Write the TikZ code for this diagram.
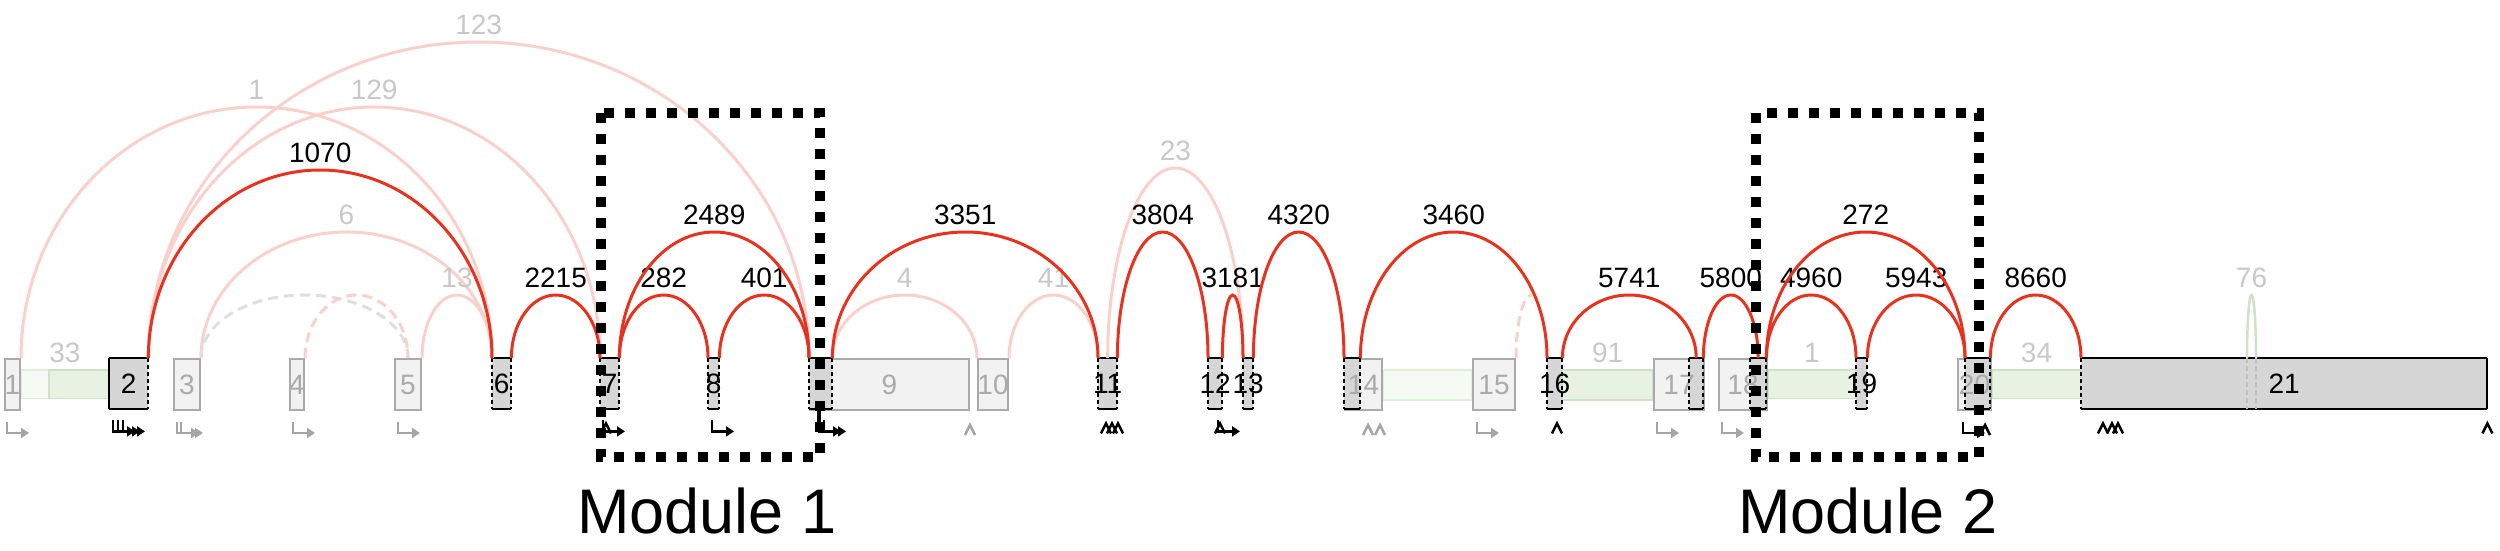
\documentclass[tikz,border=0pt]{standalone}
\usepackage{fontspec}
\setmainfont{Liberation Sans}
\usetikzlibrary{calc,arrows.meta}

\definecolor{junred}{RGB}{232,50,30}
\definecolor{junpale}{RGB}{250,208,203}
\definecolor{txtpale}{RGB}{200,200,200}
\definecolor{exdark}{RGB}{214,214,214}
\definecolor{exlight}{RGB}{242,242,242}
\definecolor{exedge}{RGB}{170,170,170}
\definecolor{intgreen}{RGB}{232,242,226}
\definecolor{intfaint}{RGB}{246,250,244}
\definecolor{intedge}{RGB}{206,226,198}
\definecolor{mkgray}{RGB}{165,165,165}

\pgfdeclarelayer{bands}
\pgfsetlayers{bands,main}

\newcommand\numfont{\fontsize{28}{32}\selectfont}

\tikzset{
  flat/.style={execute at begin node={\hbox to 0pt\bgroup\hss},
    execute at end node={\hss\egroup}},
  lex/.style={flat, anchor=north west, minimum height=51, inner sep=0pt, fill=exlight,
    draw=exedge, line width=2pt, text=exedge, font=\numfont},
  dex/.style={flat, anchor=north west, minimum height=51, inner sep=0pt, fill=exdark,
    font=\numfont},
  extxt/.style={text=exedge, font=\numfont, inner sep=0pt},
  exline/.style={line width=2pt, black},
  hot/.style={junred, line width=3pt},
  hot lab/.style={anchor=base, inner sep=0pt, font=\numfont},
  pale/.style={junpale, line width=3pt},
  pale lab/.style={anchor=base, inner sep=0pt, font=\numfont, text=txtpale},
  loop/.style={intedge, line width=2.5pt},
  loop lab/.style={pale lab},
  band/.style={fill=intgreen, draw=intedge, line width=1.5pt},
  faintband/.style={fill=intfaint, draw=intedge!60, line width=1.5pt},
  modbox/.style={line width=10pt, dash pattern=on 10pt off 11pt},
  modlab/.style={anchor=base, inner sep=0pt, font=\fontsize{63}{70}\selectfont},
  tss/.pic={\draw[line width=2.5pt, -{Triangle[length=8pt,width=10pt]}]
    (0,0) -- (0,11) -- (22,11);},
  tes/.pic={\draw[line width=2.5pt] (-5,13) -- (0,3) -- (5,13);},
}

% half ellipse between two exon anchors
\newcommand\arch[4][hot]{%
  \draw[#1] let \p1=(#2), \p2=(#3) in (\p1) arc[start angle=180, end angle=0,
    x radius={(\x2-\x1)/2}, y radius={#4pt}];}
% junction with its read count
\newcommand\junc[6][hot]{%
  \arch[#1]{#2}{#3}{#4}
  \node[#1 lab] (#5) at ($(#2)!.5!(#3)+(0,-#4-8)$) {#6};}
% dark exon edges, dashed sides
\newcommand\exedges[1]{%
  \draw[exline] (#1.north west) -- (#1.north east) (#1.south west) -- (#1.south east);
  \draw[exline, dash pattern=on 4pt off 3pt] (#1.north west) -- (#1.south west)
    (#1.north east) -- (#1.south east);}

\begin{document}
\begin{tikzpicture}[x=1pt,y=-1pt]
\useasboundingbox (0,0) rectangle (2500,550);

% exons
\node[lex, minimum width=15] (e1) at (4,358) {1};
\node[dex, minimum width=39] (e2) at (109,358) {2};
\node[lex, minimum width=26] (e3) at (173,358) {3};
\node[lex, minimum width=14] (e4) at (289,358) {4};
\node[lex, minimum width=26] (e5) at (394,358) {5};
\node[dex, minimum width=19] (e6) at (492,358) {6};
\node[dex, minimum width=19] (e7) at (600,358) {7};
\node[dex, minimum width=11] (e8) at (708,358) {8};
\node[lex, minimum width=159] (e9) at (809,358) {};
\node[dex, minimum width=23] (e9d) at (809,358) {};
\node[extxt] (t9) at (e9) {9};
\node[lex, minimum width=30] (e10) at (977,358) {10};
\node[dex, minimum width=19] (e11) at (1098,358) {11};
\node[dex, minimum width=14] (e12) at (1208,358) {12};
\node[dex, minimum width=10] (e13) at (1243,358) {13};
\node[lex, minimum width=37] (e14) at (1344,358) {};
\node[dex, minimum width=16] (e14d) at (1344,358) {};
\node[extxt] (t14) at (e14) {14};
\node[lex, minimum width=42] (e15) at (1472,358) {15};
\node[dex, minimum width=15] (e16) at (1547,358) {16};
\node[lex, minimum width=50] (e17) at (1653,358) {};
\node[dex, minimum width=14] (e17d) at (1689,358) {};
\node[extxt] (t17) at (e17) {17};
\node[lex, minimum width=48] (e18) at (1718,358) {};
\node[dex, minimum width=16] (e18d) at (1750,358) {};
\node[extxt] (t18) at (e18) {18};
\node[dex, minimum width=11] (e19) at (1856,358) {19};
\node[lex, minimum width=33] (e20) at (1957,358) {};
\node[dex, minimum width=25] (e20d) at (1965,358) {};
\node[extxt] (t20) at (e20) {20};
\node[dex, minimum width=406] (e21) at (2081,358) {21};

\foreach \e in {e2,e6,e7,e8,e9d,e11,e12,e13,e14d,e16,e17d,e18d,e19,e20d,e21}
  {\exedges{\e}}
\draw[exline] (e2.north west) -- (e2.south west);
\draw[exline] (e21.north east) -- (e21.south east);

% intron coverage
\begin{pgfonlayer}{bands}
\draw[faintband] ($(e1.north east)+(0,12)$) rectangle ($(e2.south west)+(0,-11)$);
\draw[band] ($(e1.north east)+(28,12)$) rectangle ($(e2.south west)+(0,-11)$);
\draw[faintband] ($(e14.north east)+(0,12)$) rectangle ($(e15.south west)+(0,-11)$);
\draw[band] ($(e16.north east)+(0,12)$) rectangle ($(e17.south west)+(0,-11)$);
\draw[band] ($(e18.north east)+(0,12)$) rectangle ($(e19.south west)+(0,-11)$);
\draw[band] ($(e20.north east)+(0,12)$) rectangle ($(e21.south west)+(0,-11)$);
\end{pgfonlayer}
\node[pale lab] (i33) at ($(e1.north east)!.5!(e2.north west)+(0,4)$) {33};
\node[pale lab] (i91) at ($(e16.north east)!.5!(e17.north west)+(0,4)$) {91};
\node[pale lab] (i1) at ($(e18.north east)!.5!(e19.north west)+(0,4)$) {1};
\node[pale lab] (i34) at ($(e20.north east)!.5!(e21.north west)+(0,4)$) {34};

% retained piece inside exon 21
\coordinate (r21a) at ($(e21.north west)+(166,0)$);
\coordinate (r21b) at ($(e21.north west)+(175,0)$);
\draw[mkgray!70, line width=2pt, dash pattern=on 5pt off 3pt]
  (r21a) -- +(0,51) (r21b) -- +(0,51);
\junc[loop]{r21a}{r21b}{63}{j76}{76}

% faint junctions
\junc[pale]{e1.north east}{e6.north west}{251}{j1}{1}
\junc[pale]{e2.north east}{e7.north west}{251}{j129}{129}
\junc[pale]{e2.north east}{e9d.north west}{316}{j123}{123}
\junc[pale]{e3.north east}{e6.north west}{126}{j6}{6}
\junc[pale]{e5.north east}{e6.north west}{63}{j13}{13}
\junc[pale]{e9d.north east}{e10.north west}{63}{j4}{4}
\junc[pale]{e10.north east}{e11.north west}{63}{j41}{41}
\junc[pale]{e11.north}{e13.north west}{190}{j23}{23}
\arch[gray!25, line width=3pt, dash pattern=on 10pt off 6pt]{e3.north east}{e5.north}{63}
\arch[pale, dash pattern=on 10pt off 6pt]{e4.north east}{e5.north}{63}
\draw[pale, dash pattern=on 10pt off 6pt] let \p1=(e15.north east), \p2=(e16.north west)
  in (\p1) arc[start angle=180, end angle=90, x radius={(\x2-\x1)/2}, y radius=63pt];

% strong junctions
\junc{e2.north east}{e6.north west}{188}{j1070}{1070}
\junc{e6.north east}{e7.north west}{63}{j2215}{2215}
\junc{e7.north east}{e8.north west}{63}{j282}{282}
\junc{e8.north east}{e9d.north west}{63}{j401}{401}
\junc{e7.north east}{e9d.north west}{126}{j2489}{2489}
\junc{e9d.north east}{e11.north west}{126}{j3351}{3351}
\junc{e11.north east}{e12.north west}{126}{j3804}{3804}
\junc{e12.north east}{e13.north west}{63}{j3181}{3181}
\junc{e13.north east}{e14d.north west}{126}{j4320}{4320}
\junc{e14d.north east}{e16.north west}{126}{j3460}{3460}
\junc{e16.north east}{e17d.north}{63}{j5741}{5741}
\junc{e17d.north east}{e18d.north}{63}{j5800}{5800}
\junc{e18d.north east}{e19.north west}{63}{j4960}{4960}
\junc{e19.north east}{e20d.north west}{63}{j5943}{5943}
\junc{e18d.north east}{e20d.north west}{126}{j272}{272}
\junc{e20d.north east}{e21.north west}{63}{j8660}{8660}

% transcript starts and ends
\pic[mkgray] at ($(e1.south west)+(3,11)$) {tss};
\foreach \dx in {4,9,14} \pic at ($(e2.south west)+(\dx,11)$) {tss};
\foreach \dx in {4,8} \pic[mkgray] at ($(e3.south west)+(\dx,11)$) {tss};
\pic[mkgray] at ($(e4.south west)+(4,11)$) {tss};
\pic[mkgray] at ($(e5.south west)+(4,11)$) {tss};
\pic at ($(e7.south west)+(3,11)$) {tss};
\pic at ($(e7.south west)+(6,11)$) {tes};
\pic at ($(e8.south west)+(4,11)$) {tss};
\draw[exline, line width=4pt] ($(e9d.south west)+(10,0)$) -- +(0,22);
\foreach \dx in {10,15} \pic at ($(e9d.south west)+(\dx,11)$) {tss};
\pic[mkgray] at ($(e9.south east)+(0,11)$) {tes};
\foreach \dx in {8,14,20} \pic at ($(e11.south west)+(\dx,11)$) {tes};
\pic at ($(e12.south west)+(10,11)$) {tss};
\pic at ($(e12.south west)+(12,11)$) {tes};
\foreach \dx in {24,36} \pic[mkgray] at ($(e14.south west)+(\dx,11)$) {tes};
\pic[mkgray] at ($(e15.south west)+(5,11)$) {tss};
\pic at ($(e16.south west)+(10,11)$) {tes};
\pic[mkgray] at ($(e17.south west)+(4,11)$) {tss};
\pic[mkgray] at ($(e18.south west)+(4,11)$) {tss};
\pic at ($(e20.south west)+(6,11)$) {tss};
\pic at ($(e20.south west)+(28,11)$) {tes};
\foreach \dx in {22,31,37} \pic at ($(e21.south west)+(\dx,11)$) {tes};
\pic at ($(e21.south east)+(0,11)$) {tes};

% modules
\coordinate (m1nw) at (601,113);
\coordinate (m1se) at (820,457);
\coordinate (m2nw) at (1756,113);
\coordinate (m2se) at (1979,457);
\draw[modbox] (m1nw) rectangle (m1se);
\draw[modbox] (m2nw) rectangle (m2se);
\node[modlab] (mod1) at (707,533) {Module 1};
\node[modlab] (mod2) at (1868,533) {Module 2};
\end{tikzpicture}
\end{document}
